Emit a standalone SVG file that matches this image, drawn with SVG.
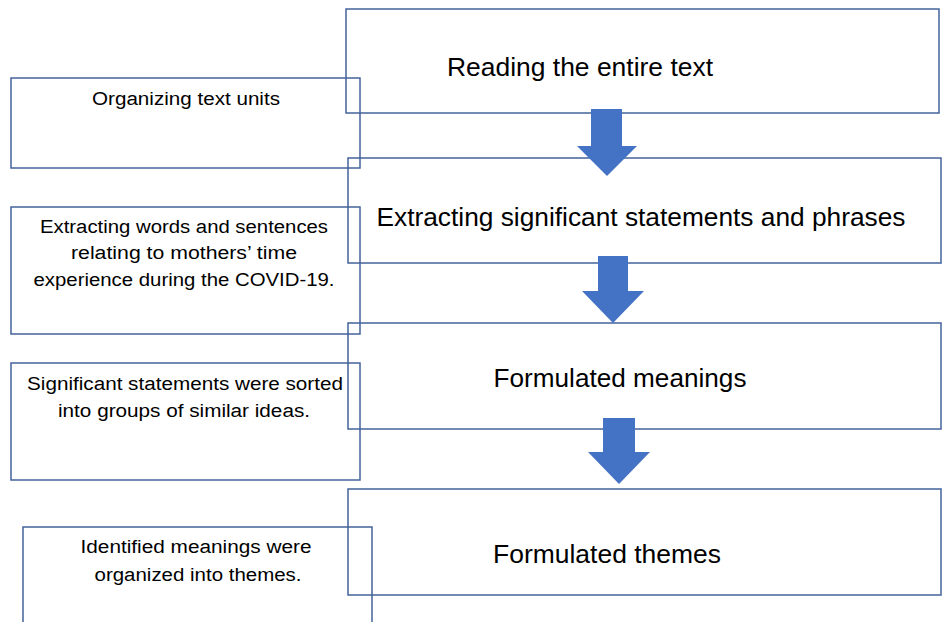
<svg xmlns="http://www.w3.org/2000/svg" width="942" height="622" viewBox="0 0 942 622">
<style>
.box{fill:none;stroke:#44639b;stroke-width:1.5}
.arrow{fill:#4472c4}
.big{font-family:"Liberation Sans",Arial,sans-serif;font-size:25px;fill:#000;text-anchor:middle}
.small{font-family:"Liberation Sans",Arial,sans-serif;font-size:18px;fill:#000;text-anchor:middle}
</style>
<rect width="942" height="622" fill="#fff"/>
<g id="step1"><rect class="box" x="346" y="9" width="593" height="104"/><text class="big" x="580" y="76" textLength="266" lengthAdjust="spacingAndGlyphs">Reading the entire text</text></g>
<g id="step2"><rect class="box" x="348" y="158" width="593" height="105"/><text class="big" x="641" y="226" textLength="529" lengthAdjust="spacingAndGlyphs">Extracting significant statements and phrases</text></g>
<g id="step3"><rect class="box" x="348" y="323" width="593" height="106"/><text class="big" x="620" y="387" textLength="253" lengthAdjust="spacingAndGlyphs">Formulated meanings</text></g>
<g id="step4"><rect class="box" x="348" y="489" width="593" height="106"/><text class="big" x="607" y="563" textLength="228" lengthAdjust="spacingAndGlyphs">Formulated themes</text></g>
<g id="note1"><rect class="box" x="11" y="78" width="349" height="90"/><text class="small" x="186" y="105" textLength="188" lengthAdjust="spacingAndGlyphs">Organizing text units</text></g>
<g id="note2"><rect class="box" x="11" y="207" width="349" height="127"/>
<text class="small" x="184" y="233" textLength="288" lengthAdjust="spacingAndGlyphs">Extracting words and sentences</text>
<text class="small" x="184" y="259" textLength="226" lengthAdjust="spacingAndGlyphs">relating to mothers’ time</text>
<text class="small" x="184" y="286" textLength="301" lengthAdjust="spacingAndGlyphs">experience during the COVID-19.</text></g>
<g id="note3"><rect class="box" x="11" y="363" width="349" height="117"/>
<text class="small" x="185" y="390" textLength="316" lengthAdjust="spacingAndGlyphs">Significant statements were sorted</text>
<text class="small" x="184" y="417" textLength="252" lengthAdjust="spacingAndGlyphs">into groups of similar ideas.</text></g>
<g id="note4"><rect class="box" x="23" y="527" width="349" height="100"/>
<text class="small" x="196" y="553" textLength="231" lengthAdjust="spacingAndGlyphs">Identified meanings were</text>
<text class="small" x="198" y="581" textLength="207" lengthAdjust="spacingAndGlyphs">organized into themes.</text></g>
<g id="connectors">
<polygon class="arrow" points="591,109 622,109 622,146 637,146 607,176 577,146 591,146"/>
<polygon class="arrow" points="598,256 628,256 628,291 644,291 613,323 582,291 598,291"/>
<polygon class="arrow" points="603,418 635,418 635,452 650,452 619,484 588,452 603,452"/>
</g>
</svg>
